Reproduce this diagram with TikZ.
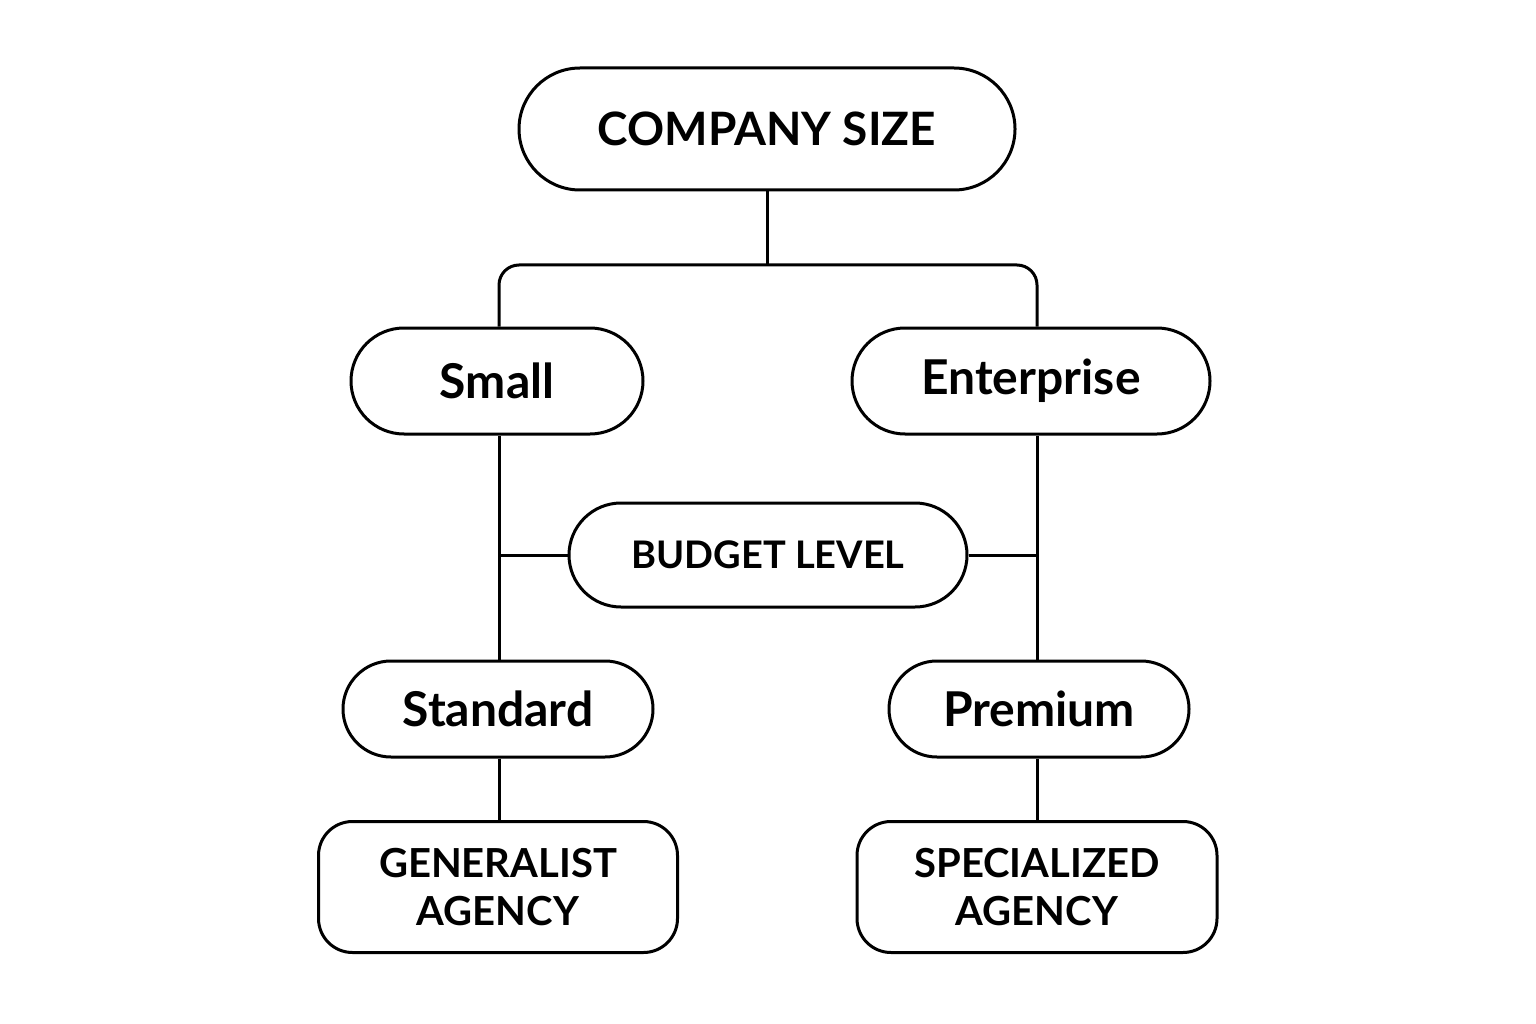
\documentclass[tikz,border=0pt]{standalone}
\usepackage{fontspec}
\setmainfont{Lato}
\usetikzlibrary{shapes.misc}
\begin{document}
\begin{tikzpicture}[x=1pt,y=-1pt,line width=3pt,
  pill/.style={draw,rounded rectangle,inner sep=0pt,font=\bfseries},
  box/.style={draw,rectangle,rounded corners=34pt,inner sep=0pt,align=center,font=\bfseries\fontsize{40}{48}\selectfont},
  link/.style={draw}]
\useasboundingbox (0,0) rectangle (1536,1024);
\node[pill,minimum width=496pt,minimum height=122pt,font=\bfseries\fontsize{46}{54}\selectfont] (cs) at (767,129) {COMPANY SIZE};
\node[pill,minimum width=292pt,minimum height=106pt,font=\bfseries\fontsize{48}{56}\selectfont] (sm) at (497,381) {Small};
\node[pill,minimum width=358pt,minimum height=106pt,font=\bfseries\fontsize{48}{56}\selectfont] (en) at (1031,381) {Enterprise};
\node[pill,minimum width=398pt,minimum height=104pt,font=\bfseries\fontsize{38}{46}\selectfont] (bl) at (768,555) {BUDGET LEVEL};
\node[pill,minimum width=310pt,minimum height=96pt,font=\bfseries\fontsize{48}{56}\selectfont] (st) at (498,709) {Standard};
\node[pill,minimum width=300pt,minimum height=96pt,font=\bfseries\fontsize{48}{56}\selectfont] (pr) at (1039,709) {Premium};
\node[box,minimum width=359pt,minimum height=131pt] (ga) at (498,887) {GENERALIST\\AGENCY};
\node[box,minimum width=360pt,minimum height=131pt] (sa) at (1037,887) {SPECIALIZED\\AGENCY};
\coordinate (j) at (767,265);
\draw (cs.south) -- (j);
\draw[rounded corners=20pt] (sm.north -| 499,0) |- (j) -| (en.north -| 1037,0);
\draw (sm.south -| 499,0) -- (st.north -| 499,0);
\draw (en.south -| 1037,0) -- (pr.north -| 1037,0);
\draw (bl.west) -- (bl.west -| 499,0);
\draw (bl.east) -- (bl.east -| 1037,0);
\draw (st.south -| 499,0) -- (ga.north -| 499,0);
\draw (pr.south -| 1037,0) -- (sa.north -| 1037,0);
\end{tikzpicture}
\end{document}
